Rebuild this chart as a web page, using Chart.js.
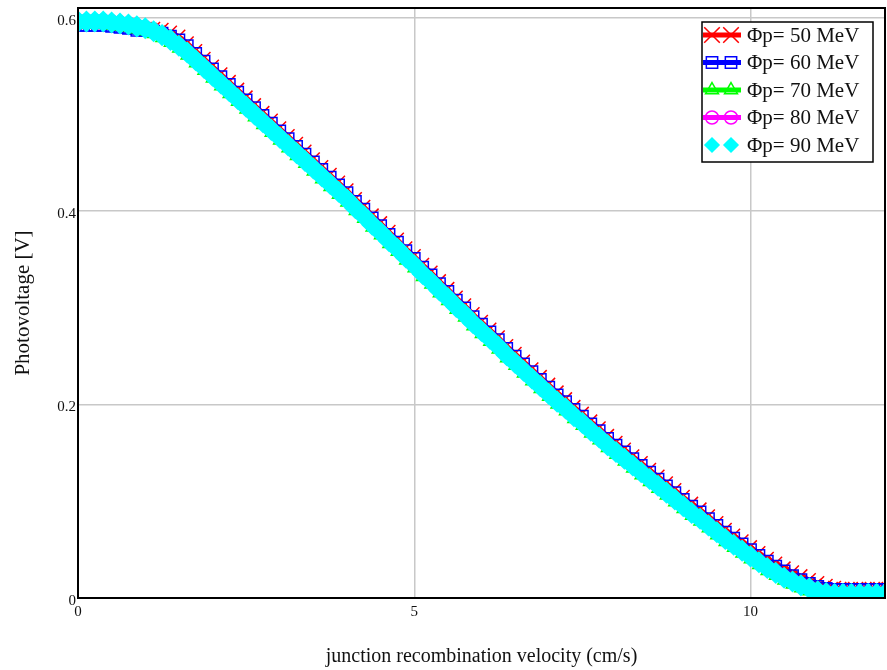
<!DOCTYPE html>
<html>
<head>
<meta charset="utf-8">
<script src="https://cdn.jsdelivr.net/npm/chart.js@4.4.1/dist/chart.umd.min.js"></script>
<style>
  html, body { margin: 0; padding: 0; background: #fff; overflow: hidden; }
  #wrap { width: 887px; height: 670px; }
  canvas { display: block; }
</style>
</head>
<body>
<div id="wrap"><canvas id="myChart" width="887" height="670"></canvas></div>
<script>
// junction recombination velocity (cm/s)
const velocity = [0,0.125,0.25,0.375,0.5,0.625,0.75,0.875,1,1.125,1.25,1.375,1.5,1.625,1.75,1.875,
  2,2.125,2.25,2.375,2.5,2.625,2.75,2.875,3,3.125,3.25,3.375,3.5,3.625,3.75,3.875,
  4,4.125,4.25,4.375,4.5,4.625,4.75,4.875,5,5.125,5.25,5.375,5.5,5.625,5.75,5.875,
  6,6.125,6.25,6.375,6.5,6.625,6.75,6.875,7,7.125,7.25,7.375,7.5,7.625,7.75,7.875,
  8,8.125,8.25,8.375,8.5,8.625,8.75,8.875,9,9.125,9.25,9.375,9.5,9.625,9.75,9.875,
  10,10.125,10.25,10.375,10.5,10.625,10.75,10.875,11,11.125,11.25,11.375,11.5,11.625,11.75,11.875,12];

// photovoltage [V] for each irradiation energy
const pv50 = [0.594,0.594,0.594,0.594,0.593,0.592,0.591,0.589,0.589,0.589,0.588,0.585,0.581,0.574,0.566,0.558,
  0.550,0.542,0.534,0.526,0.518,0.510,0.502,0.494,0.486,0.478,0.470,0.462,0.454,0.446,0.438,0.430,
  0.422,0.413,0.405,0.396,0.388,0.379,0.371,0.362,0.354,0.345,0.337,0.328,0.320,0.311,0.303,0.294,
  0.286,0.278,0.270,0.261,0.253,0.245,0.237,0.229,0.221,0.213,0.206,0.198,0.191,0.183,0.176,0.168,
  0.161,0.154,0.147,0.140,0.133,0.126,0.119,0.112,0.105,0.098,0.092,0.085,0.078,0.071,0.065,0.059,
  0.053,0.047,0.041,0.036,0.031,0.027,0.023,0.019,0.016,0.013,0.011,0.010,0.010,0.010,0.010,0.010,0.010];
const pv60 = [0.592,0.592,0.592,0.592,0.591,0.590,0.589,0.587,0.587,0.586,0.584,0.581,0.577,0.571,0.563,0.555,
  0.547,0.539,0.531,0.523,0.515,0.507,0.499,0.491,0.483,0.475,0.467,0.459,0.451,0.443,0.435,0.427,
  0.419,0.410,0.402,0.393,0.385,0.376,0.368,0.359,0.351,0.342,0.334,0.325,0.317,0.308,0.300,0.291,
  0.283,0.275,0.267,0.258,0.250,0.242,0.234,0.226,0.218,0.210,0.203,0.195,0.188,0.180,0.173,0.165,
  0.158,0.151,0.144,0.137,0.130,0.123,0.116,0.109,0.102,0.095,0.089,0.082,0.075,0.068,0.062,0.056,
  0.050,0.044,0.038,0.033,0.028,0.023,0.019,0.015,0.012,0.010,0.009,0.009,0.009,0.009,0.009,0.009,0.009];
const pv70 = [0.593,0.593,0.593,0.593,0.592,0.591,0.590,0.588,0.586,0.583,0.579,0.574,0.568,0.561,0.553,0.545,
  0.537,0.529,0.521,0.513,0.505,0.497,0.489,0.481,0.473,0.465,0.457,0.449,0.441,0.433,0.425,0.417,
  0.409,0.400,0.392,0.383,0.375,0.366,0.358,0.349,0.341,0.332,0.324,0.315,0.307,0.298,0.290,0.281,
  0.273,0.265,0.257,0.248,0.240,0.232,0.224,0.216,0.208,0.200,0.193,0.185,0.178,0.170,0.163,0.155,
  0.148,0.141,0.134,0.127,0.120,0.113,0.106,0.099,0.092,0.085,0.079,0.072,0.065,0.058,0.052,0.046,
  0.040,0.034,0.028,0.023,0.018,0.014,0.010,0.007,0.004,0.002,0.001,0.001,0.001,0.001,0.001,0.001,0.001];
const pv80 = [0.597,0.597,0.597,0.597,0.596,0.595,0.594,0.592,0.590,0.587,0.583,0.578,0.572,0.565,0.557,0.549,
  0.541,0.533,0.525,0.517,0.509,0.501,0.493,0.485,0.477,0.469,0.461,0.453,0.445,0.437,0.429,0.421,
  0.413,0.404,0.396,0.387,0.379,0.370,0.362,0.353,0.345,0.336,0.328,0.319,0.311,0.302,0.294,0.285,
  0.277,0.269,0.261,0.252,0.244,0.236,0.228,0.220,0.212,0.204,0.197,0.189,0.182,0.174,0.167,0.159,
  0.152,0.145,0.138,0.131,0.124,0.117,0.110,0.103,0.096,0.089,0.083,0.076,0.069,0.062,0.056,0.050,
  0.044,0.038,0.032,0.027,0.022,0.018,0.014,0.011,0.008,0.006,0.005,0.005,0.005,0.005,0.005,0.005,0.005];
const pv90 = [0.596,0.596,0.596,0.596,0.595,0.594,0.593,0.591,0.589,0.586,0.582,0.577,0.571,0.564,0.556,0.548,
  0.540,0.532,0.524,0.516,0.508,0.500,0.492,0.484,0.476,0.468,0.460,0.452,0.444,0.436,0.428,0.420,
  0.412,0.403,0.395,0.386,0.378,0.369,0.361,0.352,0.344,0.335,0.327,0.318,0.310,0.301,0.293,0.284,
  0.276,0.268,0.260,0.251,0.243,0.235,0.227,0.219,0.211,0.203,0.196,0.188,0.181,0.173,0.166,0.158,
  0.151,0.144,0.137,0.130,0.123,0.116,0.109,0.102,0.095,0.088,0.082,0.075,0.068,0.061,0.055,0.049,
  0.043,0.037,0.031,0.026,0.021,0.017,0.013,0.010,0.007,0.005,0.004,0.004,0.004,0.004,0.004,0.004,0.004];

const seriesLabels = ['\u03a6p= 50 MeV', '\u03a6p= 60 MeV', '\u03a6p= 70 MeV', '\u03a6p= 80 MeV', '\u03a6p= 90 MeV'];
const xTicks = [0, 5, 10];
const yTicks = [0, 0.2, 0.4, 0.6];

const serif = "'Liberation Serif', 'Times New Roman', serif";

function pts(ys) {
  return velocity.map(function (v, i) { return { x: v, y: ys[i] }; });
}

const styles = [
  { color: '#ff0000', point: 'crossRot', radius: 9, legR: 11, lineW: 4, fill: 'rgba(0,0,0,0)', order: 5 },
  { color: '#0000ff', point: 'rect', radius: 8, legR: 8, lineW: 4, fill: 'rgba(0,0,0,0)', order: 4 },
  { color: '#00ff00', point: 'triangle', radius: 7, legR: 7.5, lineW: 4, fill: 'rgba(0,0,0,0)', order: 3 },
  { color: '#ff00ff', point: 'circle', radius: 6.5, legR: 6.5, lineW: 4, fill: 'rgba(0,0,0,0)', order: 2 },
  { color: '#00ffff', point: 'rectRot', radius: 10, legR: 7, lineW: 14, fill: '#00ffff', order: 1 }
];
const allData = [pv50, pv60, pv70, pv80, pv90];

const datasets = allData.map(function (d, i) {
  const s = styles[i];
  return {
    label: seriesLabels[i],
    data: pts(d),
    borderColor: s.color,
    borderWidth: s.lineW,
    pointStyle: s.point,
    pointRadius: s.radius,
    pointBorderColor: s.color,
    pointBackgroundColor: s.fill,
    pointBorderWidth: 1.5,
    tension: 0,
    order: s.order,
    clip: 1
  };
});

// legend box drawn inside the plot, with a line and two markers per row
const boxLegend = {
  id: 'boxLegend',
  afterDraw: function (chart) {
    const ctx = chart.ctx;
    const a = chart.chartArea;
    const w = 171, h = 140;
    const left = a.right - 12 - w, top = a.top + 14;
    ctx.save();
    ctx.fillStyle = '#fff';
    ctx.fillRect(left, top, w, h);
    ctx.strokeStyle = '#000';
    ctx.lineWidth = 1.5;
    ctx.strokeRect(left, top, w, h);
    for (let i = 0; i < 5; i++) {
      const s = styles[i];
      const y = top + 13 + i * 27.5;
      if (i < 4) {
        ctx.strokeStyle = s.color;
        ctx.lineWidth = 5;
        ctx.beginPath();
        ctx.moveTo(left + 1, y);
        ctx.lineTo(left + 39, y);
        ctx.stroke();
      }
      [left + 10, left + 29].forEach(function (px) {
        ctx.strokeStyle = s.color;
        ctx.fillStyle = s.fill;
        ctx.lineWidth = 1.5;
        Chart.helpers.drawPoint(ctx, { pointStyle: s.point, radius: s.legR, rotation: 0, borderWidth: 1.5 }, px, y);
      });
      ctx.fillStyle = '#111';
      ctx.font = '21px ' + serif;
      ctx.textBaseline = 'middle';
      ctx.textAlign = 'left';
      ctx.fillText(seriesLabels[i], left + 45, y + 1);
    }
    ctx.restore();
  }
};

// dark frame around the plot area
const frame = {
  id: 'frame',
  afterDatasetsDraw: function (chart) {
    const ctx = chart.ctx;
    const a = chart.chartArea;
    ctx.save();
    ctx.strokeStyle = '#000';
    ctx.lineWidth = 2;
    ctx.strokeRect(a.left, a.top, a.right - a.left, a.bottom - a.top);
    ctx.restore();
  }
};

const ctx = document.getElementById('myChart').getContext('2d');
const myChart = new Chart(ctx, {
  type: 'line',
  data: { datasets: datasets },
  options: {
    responsive: false,
    animation: false,
    devicePixelRatio: 1,
    layout: { autoPadding: false, padding: { top: 8, right: 2, left: 0, bottom: 0 } },
    plugins: { legend: { display: false }, tooltip: { enabled: false } },
    scales: {
      x: {
        type: 'linear',
        min: 0,
        max: 12,
        afterFit: function (scale) { scale.height = 72; scale.paddingLeft = 0; scale.paddingRight = 0; },
        afterBuildTicks: function (scale) { scale.ticks = xTicks.map(function (v) { return { value: v }; }); },
        ticks: { font: { family: serif, size: 15 }, color: '#111', padding: 5, maxRotation: 0 },
        grid: { color: '#c8c8c8', lineWidth: 1.5, drawTicks: false },
        border: { display: false },
        title: {
          display: true,
          text: 'junction recombination velocity (cm/s)',
          font: { family: serif, size: 20 },
          color: '#111',
          padding: { top: 0, bottom: 1 }
        }
      },
      y: {
        type: 'linear',
        min: 0,
        max: 0.61,
        afterFit: function (scale) { scale.width = 78; scale.paddingTop = 0; scale.paddingBottom = 0; },
        afterBuildTicks: function (scale) { scale.ticks = yTicks.map(function (v) { return { value: v }; }); },
        ticks: {
          font: { family: serif, size: 15 },
          color: '#111',
          padding: 2,
          labelOffset: 3,
          callback: function (v) { return v === 0 ? '0' : v.toFixed(1); }
        },
        grid: { color: '#c8c8c8', lineWidth: 1.5, drawTicks: false },
        border: { display: false },
        title: {
          display: true,
          text: 'Photovoltage [V]',
          font: { family: serif, size: 21 },
          color: '#111',
          padding: { top: 11, bottom: 0 }
        }
      }
    }
  },
  plugins: [frame, boxLegend]
});
</script>
</body>
</html>
